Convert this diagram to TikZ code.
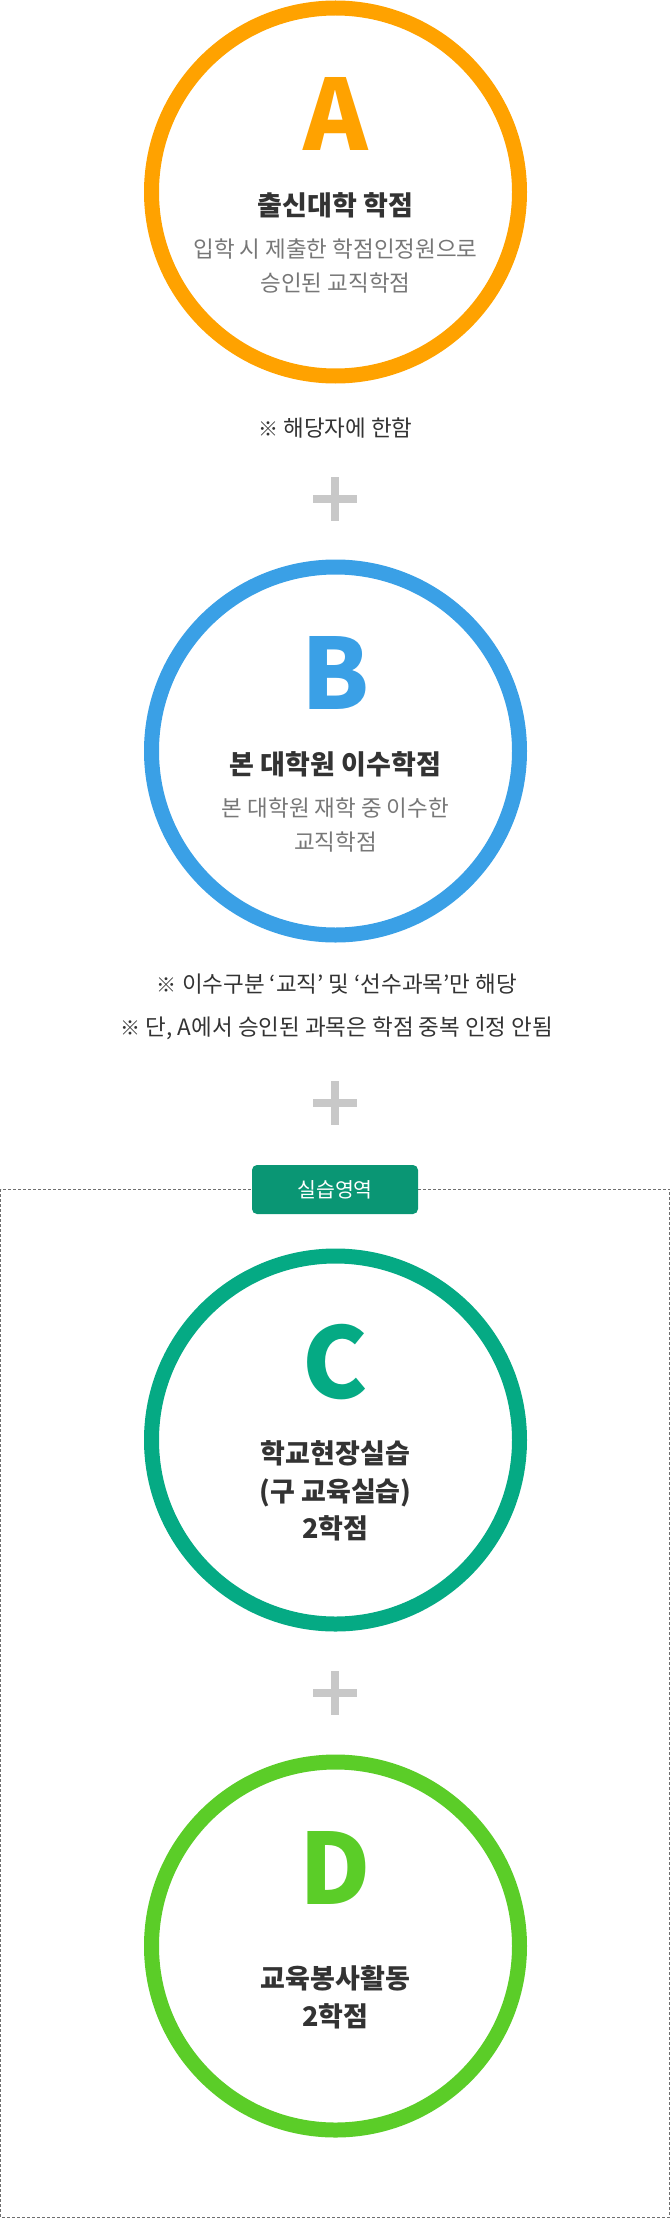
\documentclass[tikz,border=0pt]{standalone}
\usepackage{fontspec}
\setmainfont{Noto Sans CJK KR}
\usepackage{tikz}
\usetikzlibrary{positioning}

\definecolor{colA}{HTML}{FFA200}
\definecolor{colB}{HTML}{3AA0E6}
\definecolor{colC}{HTML}{05AA84}
\definecolor{colD}{HTML}{5BCD28}
\definecolor{badgegreen}{HTML}{0A9674}
\definecolor{plusgray}{HTML}{C8C8C8}
\definecolor{txtdark}{HTML}{333333}
\definecolor{txtgray}{HTML}{777777}
\definecolor{dashgray}{HTML}{6E6E6E}

\newcommand{\refmark}{{\bfseries\fontsize{20}{20}\selectfont ※}}

\begin{document}
\begin{tikzpicture}[
    x=1pt, y=1pt,
    ring/.style={circle, draw, line width=15pt, minimum size=368pt, inner sep=0pt},
    letter/.style={font=\fontsize{98}{98}\selectfont\bfseries, inner sep=0pt},
    title/.style={font=\fontsize{27}{37.5}\selectfont\bfseries, text=txtdark, align=center, inner sep=0pt},
    subtitle/.style={font=\fontsize{22.5}{34}\selectfont, text=txtgray, align=center, inner sep=0pt},
    note/.style={font=\fontsize{22.5}{43}\selectfont, text=txtdark, align=center, inner sep=0pt},
    badge/.style={rectangle, fill=badgegreen, rounded corners=5pt, minimum width=166pt, minimum height=49pt, text=white, font=\fontsize{20.5}{24}\selectfont, inner sep=0pt},
    dashbox/.style={draw=dashgray, line width=1pt, dash pattern=on 3pt off 2pt},
    plusmark/.style={minimum size=44pt, inner sep=0pt, path picture={
        \fill[plusgray] ([xshift=-4pt]path picture bounding box.north) rectangle ([xshift=4pt]path picture bounding box.south);
        \fill[plusgray] ([yshift=4pt]path picture bounding box.west) rectangle ([yshift=-4pt]path picture bounding box.east);}}
]
\useasboundingbox (0,0) rectangle (670,-2218);

\node[ring, draw=colA] (circA) at (335.5,-192) {};
\node[letter, text=colA] (letA) at ([yshift=78pt]circA.center) {A};
\node[title] (titA) at ([yshift=-13pt]circA.center) {출신대학 학점};
\node[subtitle] (subA) at ([yshift=-74pt]circA.center) {입학 시 제출한 학점인정원으로\\승인된 교직학점};
\node[note] (noteA) at (335.5,-428) {\refmark{} 해당자에 한함};
\node[plusmark] (plus1) at (335,-499) {};

\node[ring, draw=colB] (circB) at (335.5,-751) {};
\node[letter, text=colB] (letB) at ([yshift=78pt]circB.center) {B};
\node[title] (titB) at ([yshift=-13pt]circB.center) {본 대학원 이수학점};
\node[subtitle] (subB) at ([yshift=-74pt]circB.center) {본 대학원 재학 중 이수한\\교직학점};
\node[note] (noteB) at (337,-1006.5) {\refmark{} 이수구분 ‘교직’ 및 ‘선수과목’만 해당\\\refmark{} 단, A에서 승인된 과목은 학점 중복 인정 안됨};
\node[plusmark] (plus2) at (335,-1103) {};

\draw[dashbox] (0.5,-1189) rectangle (669.5,-2217.5);
\node[badge] (zone) at (335,-1189.5) {실습영역};

\node[ring, draw=colC] (circC) at (335.5,-1440) {};
\node[letter, text=colC] (letC) at ([yshift=78pt]circC.center) {C};
\node[title] (titC) at ([yshift=-51pt]circC.center) {학교현장실습\\(구 교육실습)\\2학점};
\node[plusmark] (plus3) at (335,-1693) {};

\node[ring, draw=colD] (circD) at (335.5,-1946) {};
\node[letter, text=colD] (letD) at ([yshift=78pt]circD.center) {D};
\node[title] (titD) at ([yshift=-51.5pt]circD.center) {교육봉사활동\\2학점};
\end{tikzpicture}
\end{document}
